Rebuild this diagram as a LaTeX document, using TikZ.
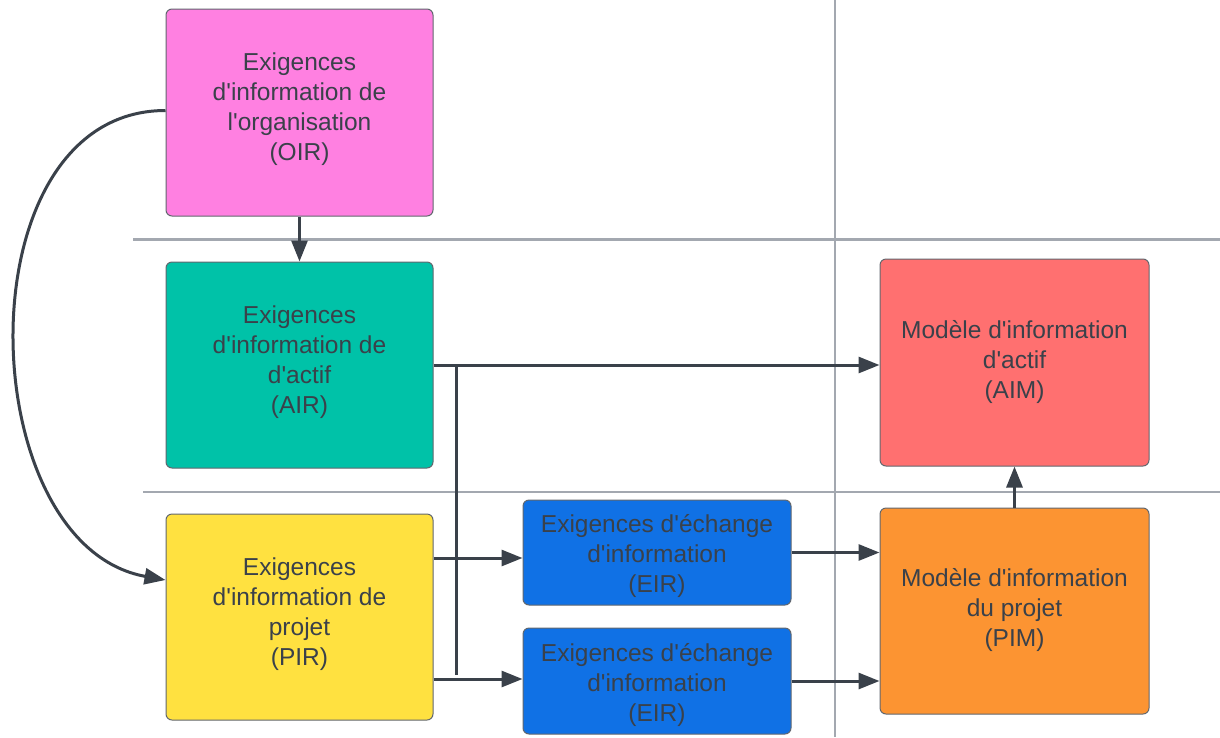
\documentclass[tikz,border=0pt]{standalone}
\usepackage{fontspec}
\setmainfont{Liberation Sans}
\usetikzlibrary{arrows.meta,calc}
\definecolor{cpink}{HTML}{FF80E1}
\definecolor{cteal}{HTML}{00C2A8}
\definecolor{cyellow}{HTML}{FFE140}
\definecolor{cblue}{HTML}{1071E5}
\definecolor{cred}{HTML}{FF7070}
\definecolor{corange}{HTML}{FC9432}
\definecolor{cdark}{HTML}{3A414A}
\definecolor{cgrid}{HTML}{A3A8B0}
\newcommand{\ap}{\textquotesingle}
\begin{document}
\begin{tikzpicture}[x=1pt,y=-1pt,
  box/.style={draw=cdark!80!white,line width=1pt,rounded corners=6pt,inner sep=0pt},
  boxtext/.style={align=center,text=cdark,inner sep=0pt,
    font=\fontsize{24.5}{30}\selectfont},
  big/.style={box,minimum width=267pt,minimum height=206pt},
  small/.style={box,minimum width=268pt,minimum height=105pt},
  arr/.style={draw=cdark,line width=3pt,-{Triangle[length=21pt,width=16pt]}},
  link/.style={draw=cdark,line width=3pt},
  thickgrid/.style={draw=cgrid,line width=3pt},
  thingrid/.style={draw=cgrid,line width=1.2pt}]
\useasboundingbox (0,0) rectangle (1220,737);
% grid lines
\draw[thingrid] (835,0) -- (835,737);
\draw[thickgrid] (133,239) -- (1220,239);
\draw[thingrid] (143,492) -- (1220,492);
% nodes
\node[big,fill=cpink,minimum height=207pt,
  label={[boxtext,yshift=3pt]center:Exigences\\d\ap information de\\l\ap organisation\\(OIR)}] (OIR) at (299.5,112.5) {};
\node[big,fill=cteal,
  label={[boxtext,yshift=3pt]center:Exigences\\d\ap information de\\d\ap actif\\(AIR)}] (AIR) at (299.5,365) {};
\node[big,fill=cyellow,
  label={[boxtext,yshift=3pt]center:Exigences\\d\ap information de\\projet\\(PIR)}] (PIR) at (299.5,617) {};
\node[small,fill=cblue,
  label={[boxtext,yshift=-4pt]center:Exigences d\ap échange\\d\ap information\\(EIR)}] (EIR1) at (657,552.5) {};
\node[small,fill=cblue,minimum height=106pt,
  label={[boxtext,yshift=-4pt]center:Exigences d\ap échange\\d\ap information\\(EIR)}] (EIR2) at (657,681) {};
\node[big,fill=cred,minimum width=269pt,minimum height=207pt,
  label={[boxtext]center:Modèle d\ap information\\d\ap actif\\(AIM)}] (AIM) at (1014.5,362.5) {};
\node[big,fill=corange,minimum width=269pt,
  label={[boxtext,yshift=1pt]center:Modèle d\ap information\\du projet\\(PIM)}] (PIM) at (1014.5,611) {};
% connectors
\draw[arr] (OIR.south) -- (AIR.north);
\draw[arr] (AIR.east) -- (AIR.east -| AIM.west);
\coordinate (j1) at (456,365);
\coordinate (j2) at (456,675);
\draw[link] (j1) -- (j2);
\draw[arr] ([yshift=59pt]PIR.east) -- ([yshift=59pt]PIR.east -| EIR1.west);
\draw[arr] ([yshift=-62pt]PIR.east) -- ([yshift=-62pt]PIR.east -| EIR2.west);
\draw[arr] (EIR1.east) -- (EIR1.east -| PIM.west);
\draw[arr] (EIR2.east) -- (EIR2.east -| PIM.west);
\draw[arr] (PIM.north) -- (AIM.south);
\draw[arr] ([yshift=2pt]OIR.west) .. controls +(-205,0) and +(-195,-35) .. ([yshift=37pt]PIR.west);
\end{tikzpicture}
\end{document}
